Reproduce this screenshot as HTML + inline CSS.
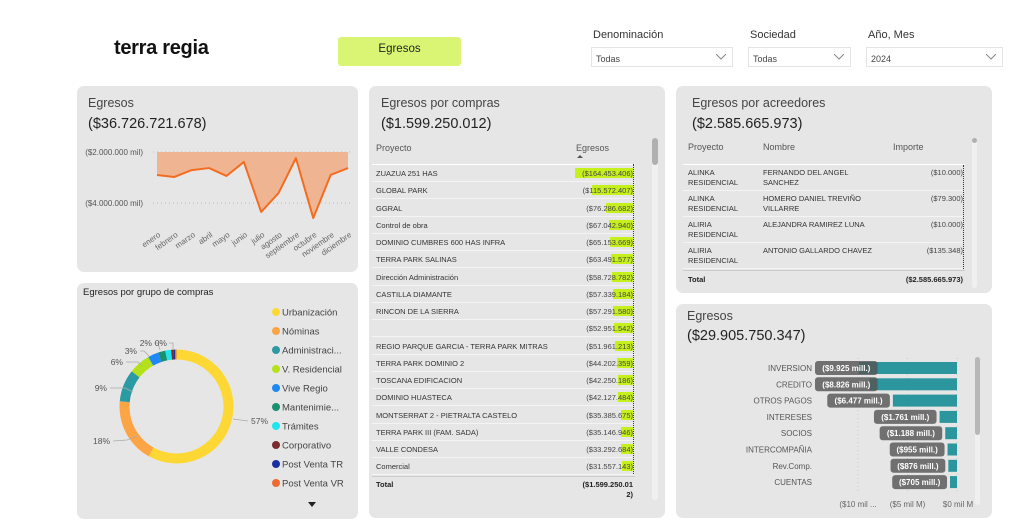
<!DOCTYPE html>
<html><head><meta charset="utf-8">
<style>
*{margin:0;padding:0;box-sizing:border-box}
body{width:1032px;height:530px;background:#fff;font-family:"Liberation Sans",sans-serif;position:relative;overflow:hidden;color:#333}
.abs{position:absolute}
.panel{position:absolute;background:#e6e6e6;border-radius:7px}
.lbl{position:absolute;font-size:11px;color:#333}
.dd{position:absolute;height:20px;border:1px solid #e4e4e4;background:#fff;font-size:9px;color:#444;padding:6px 0 0 4px}
.dd svg{position:absolute;right:6px;top:6px}
.t{position:absolute;white-space:nowrap}
</style></head><body>
<div class="t" style="left:114px;top:37px;font-size:20px;font-weight:bold;color:#111;letter-spacing:-0.3px">terra regia</div>
<div class="abs" style="left:338px;top:37px;width:123px;height:29px;background:#d9f573;border-radius:3px;font-size:11.5px;color:#222;text-align:center;padding-top:6px">Egresos</div>

<div class="lbl" style="left:593px;top:29px">Denominación</div>
<div class="dd" style="left:591px;top:47px;width:142px">Todas<svg width="10" height="6"><path d="M0 0L5 5L10 0" fill="none" stroke="#888"/></svg></div>
<div class="lbl" style="left:750px;top:29px">Sociedad</div>
<div class="dd" style="left:748px;top:47px;width:103px">Todas<svg width="10" height="6"><path d="M0 0L5 5L10 0" fill="none" stroke="#888"/></svg></div>
<div class="lbl" style="left:868px;top:29px">Año, Mes</div>
<div class="dd" style="left:866px;top:47px;width:137px">2024<svg width="10" height="6"><path d="M0 0L5 5L10 0" fill="none" stroke="#888"/></svg></div>

<!-- Panel 1 -->
<div class="panel" style="left:77px;top:86px;width:281px;height:186px"></div>
<div class="t" style="left:88px;top:96px;font-size:12.5px;color:#444">Egresos</div>
<div class="t" style="left:88px;top:116px;font-size:14.5px;color:#222">($36.726.721.678)</div>
<svg class="abs" style="left:0;top:0" width="1032" height="530" id="linesvg"></svg>

<!-- Panel 2 -->
<div class="panel" style="left:77px;top:283px;width:281px;height:236px"></div>
<div class="t" style="left:83px;top:287px;font-size:9.5px;color:#222">Egresos por grupo de compras</div>
<svg class="abs" style="left:0;top:0" width="1032" height="530" id="donutsvg"></svg>
<div class="t" style="left:308px;top:502px;width:0;height:0;border-left:4px solid transparent;border-right:4px solid transparent;border-top:5px solid #222"></div>

<!-- Panel 3 -->
<div class="panel" style="left:369px;top:86px;width:296px;height:432px"></div>
<div class="t" style="left:381px;top:96px;font-size:12.5px;color:#444">Egresos por compras</div>
<div class="t" style="left:381px;top:116px;font-size:14.5px;color:#222">($1.599.250.012)</div>
<div class="t" style="left:376px;top:143px;font-size:9px;color:#555">Proyecto</div>
<div class="t" style="left:576px;top:143px;font-size:9px;color:#555">Egresos</div>
<div class="abs" style="left:577px;top:155px;width:0;height:0;border-left:3px solid transparent;border-right:3px solid transparent;border-bottom:3px solid #555"></div>
<div class="abs" style="left:372px;top:164px;width:263px;height:1px;background:#fff"></div>
<div id="comprasRows"></div>
<div class="abs" style="left:633px;top:164px;height:310px;border-left:1px dotted #333"></div>
<div class="abs" style="left:372px;top:476px;width:263px;height:1px;background:#ccc"></div>
<div class="t" style="left:376px;top:480px;font-size:7.5px;font-weight:bold;color:#222">Total</div>
<div class="t" style="left:560px;top:480px;width:73px;text-align:right;font-size:7.5px;font-weight:bold;color:#222;line-height:10px">($1.599.250.01<br>2)</div>
<div class="abs" style="left:652px;top:138px;width:6px;height:362px;background:#f0f0f0;border-radius:3px"><div style="width:6px;height:27px;background:#b0b0b0;border-radius:3px"></div></div>

<!-- Panel 4 -->
<div class="panel" style="left:676px;top:86px;width:316px;height:207px"></div>
<div class="t" style="left:692px;top:96px;font-size:12.5px;color:#444">Egresos por acreedores</div>
<div class="t" style="left:692px;top:116px;font-size:14.5px;color:#222">($2.585.665.973)</div>
<div class="t" style="left:688px;top:142px;font-size:9px;color:#555">Proyecto</div>
<div class="t" style="left:763px;top:142px;font-size:9px;color:#555">Nombre</div>
<div class="t" style="left:893px;top:142px;font-size:9px;color:#555">Importe</div>
<div class="abs" style="left:683px;top:164px;width:282px;height:1px;background:#fff"></div>
<div id="acrRows"></div>
<div class="abs" style="left:963px;top:165px;height:104px;border-left:1px dotted #333"></div>
<div class="abs" style="left:683px;top:270px;width:282px;height:1px;background:#ccc"></div>
<div class="t" style="left:688px;top:275px;font-size:7.5px;font-weight:bold;color:#222">Total</div>
<div class="t" style="left:880px;top:275px;width:83px;text-align:right;font-size:7.5px;font-weight:bold;color:#222">($2.585.665.973)</div>
<div class="abs" style="left:972px;top:138px;width:5px;height:150px;background:#f0f0f0;border-radius:3px"><div style="width:5px;height:5px;background:#b0b0b0;border-radius:3px"></div></div>

<!-- Panel 5 -->
<div class="panel" style="left:676px;top:304px;width:316px;height:214px"></div>
<div class="t" style="left:687px;top:309px;font-size:12.5px;color:#444">Egresos</div>
<div class="t" style="left:687px;top:328px;font-size:14.5px;color:#222">($29.905.750.347)</div>
<svg class="abs" style="left:0;top:0" width="1032" height="530" id="barsvg"></svg>
<div class="abs" style="left:975px;top:357px;width:5px;height:148px;background:#f0f0f0;border-radius:3px"><div style="width:5px;height:78px;background:#b8b8b8;border-radius:3px"></div></div>

<script>
const NS="http://www.w3.org/2000/svg";
function mk(p,tag,a,txt){const e=document.createElementNS(NS,tag);for(const k in a)e.setAttribute(k,a[k]);if(txt!=null)e.textContent=txt;p.appendChild(e);return e;}

// ===== Line chart =====
const months=["enero","febrero","marzo","abril","mayo","junio","julio","agosto","septiembre","octubre","noviembre","diciembre"];
const monthValues=[2.90,2.98,2.71,2.63,2.94,2.39,4.35,3.61,2.24,4.59,2.90,2.63]; // millions of "mil" (negative)
const lineTicks=[2,4];
const lineTickLabels=["($2.000.000 mil)","($4.000.000 mil)"];
(function(){
 const s=document.getElementById('linesvg');
 const x=i=>157+i*(348-157)/(months.length-1);
 const y=v=>152+(v-2)*25.5;
 lineTicks.forEach((t,i)=>{
  const g=mk(s,'line',{x1:153,x2:352,y1:y(t),y2:y(t),stroke:'#bbb','stroke-dasharray':'1,3'});
  
  const tx=mk(s,'text',{x:143,y:y(t)+3,'text-anchor':'end','font-size':'8','fill':'#555','font-family':'Liberation Sans'},lineTickLabels[i]);
  
 });
 let pts=monthValues.map((v,i)=>x(i)+','+y(v)).join(' ');
 const area=mk(s,'polygon',{points:x(0)+','+y(2)+' '+pts+' '+x(11)+','+y(2),fill:'#efb593'});
 
 const ln=mk(s,'polyline',{points:pts,fill:'none',stroke:'#f26d21','stroke-width':'2','stroke-linejoin':'round'});
 
 months.forEach((m,i)=>{
  const t=mk(s,'text',{x:x(i)+4,y:236,'text-anchor':'end','font-size':'8','fill':'#666','font-family':'Liberation Sans',transform:`rotate(-35 ${x(i)+4} 236)`},m);
  
 });
})();

// ===== Donut =====
const groups=["Urbanización","Nóminas","Administraci...","V. Residencial","Vive Regio","Mantenimie...","Trámites","Corporativo","Post Venta TR","Post Venta VR"];
const groupShares=[57,18,9,6,3,2,1.6,0.7,0.4,0.4];
const groupColors=["#fdd835","#fda445","#2b9aa3","#b4e21a","#1e88f5","#1b8f70","#1ee6f0","#7b2a2e","#1c2fa0","#ee6a33"];
const pctLabels=["57%","18%","9%","6%","3%","2%","0%"];
(function(){
 const s=document.getElementById('donutsvg');
 const cx=176.5,cy=406.5,R=57,r=47;
 const tot=groupShares.reduce((a,b)=>a+b,0);
 let a0=0;
 const pt=(rad,a)=>[cx+rad*Math.sin(a),cy-rad*Math.cos(a)];
 groupShares.forEach((v,i)=>{
  const a1=a0+v/tot*2*Math.PI;
  const [x1,y1]=pt(R,a0),[x2,y2]=pt(R,a1),[x3,y3]=pt(r,a1),[x4,y4]=pt(r,a0);
  const lg=(a1-a0)>Math.PI?1:0;
  const p=mk(s,'path',{d:`M${x1},${y1}A${R},${R} 0 ${lg} 1 ${x2},${y2}L${x3},${y3}A${r},${r} 0 ${lg} 0 ${x4},${y4}Z`,fill:groupColors[i]});
  
  a0=a1;
  const ly=312+i*19.0;
  const c=mk(s,'circle',{cx:276,cy:ly,r:4,fill:groupColors[i]});
  
  const t=mk(s,'text',{x:282,y:ly+3.5,'font-size':'9.5','fill':'#444','font-family':'Liberation Sans'},groups[i]);
  
 });
 const lp=[[251,424,'start',[233,419,248,421]],[110,444,'end',[113,441,127,440,137,436]],[107,391,'end',[110,388,125,388,133,392]],[123,365,'end',[126,362,138,362,142,366]],[137,354,'end',[140,351,144,351,150,357]],[152,346,'end',[154,343,158,343,160,350]],[167,346,'end',[169,343,173,343,173,349]]];
 lp.forEach((l,i)=>{
  const pl=mk(s,'polyline',{points:l[3].join(','),fill:'none',stroke:'#aaa','stroke-width':'0.8'});
  
  const t=mk(s,'text',{x:l[0],y:l[1],'text-anchor':l[2],'font-size':'8.5','fill':'#555','font-family':'Liberation Sans'},pctLabels[i]);
  
 });
})();

// ===== Compras table =====
const proyectos=["ZUAZUA 251 HAS","GLOBAL PARK","GGRAL","Control de obra","DOMINIO CUMBRES 600 HAS INFRA","TERRA PARK SALINAS","Dirección Administración","CASTILLA DIAMANTE","RINCON DE LA SIERRA","","REGIO PARQUE GARCIA - TERRA PARK MITRAS","TERRA PARK DOMINIO 2","TOSCANA EDIFICACION","DOMINIO HUASTECA","MONTSERRAT 2 - PIETRALTA CASTELO","TERRA PARK III (FAM. SADA)","VALLE CONDESA","Comercial"];
const egresosVals=[164453406,115572407,76286682,67042940,65153669,63491577,58728782,57339184,57291580,52951542,51961213,44202359,42250186,42127484,35385675,35146946,33292684,31557143];
(function(){
 const box=document.getElementById('comprasRows');
 const max=Math.max(...egresosVals);
 proyectos.forEach((p,i)=>{
  const top=165+i*17.25;
  const fmt='($'+egresosVals[i].toString().replace(/\B(?=(\d{3})+(?!\d))/g,'.')+')';
  const row=document.createElement('div');
  row.className='abs';
  row.style.cssText=`left:372px;top:${top}px;width:263px;height:17px;border-bottom:1px solid #f4f4f4`;
  
  
  const w=egresosVals[i]/max*58;
  row.innerHTML=`<div class="t" style="left:4px;top:4px;font-size:7.5px;color:#333">${p}</div><div class="abs" style="left:${261-w}px;top:3px;width:${w}px;height:10px;background:#c6f01b"></div><div class="t" style="left:150px;width:111px;text-align:right;top:4px;font-size:7.5px;color:#444">${fmt}</div>`;
  box.appendChild(row);
 });
})();

// ===== Acreedores table =====
const acrProy=[["ALINKA","RESIDENCIAL"],["ALINKA","RESIDENCIAL"],["ALIRIA","RESIDENCIAL"],["ALIRIA","RESIDENCIAL"]];
const acrNombre=[["FERNANDO DEL ANGEL","SANCHEZ"],["HOMERO DANIEL TREVIÑO","VILLARRE"],["ALEJANDRA RAMIREZ LUNA",""],["ANTONIO GALLARDO CHAVEZ",""]];
const acrImporte=["($10.000)","($79.300)","($10.000)","($135.348)"];
(function(){
 const box=document.getElementById('acrRows');
 acrProy.forEach((p,i)=>{
  const top=165+i*26;
  const row=document.createElement('div');
  row.className='abs';
  row.style.cssText=`left:683px;top:${top}px;width:282px;height:26px;border-bottom:1px solid #f4f4f4`;
  
  
  row.innerHTML=`<div class="t" style="left:5px;top:3px;font-size:7.5px;color:#333;line-height:10px">${p[0]}<br>${p[1]}</div><div class="t" style="left:80px;top:3px;font-size:7.5px;color:#333;line-height:10px">${acrNombre[i][0]}<br>${acrNombre[i][1]}</div><div class="t" style="left:180px;width:100px;text-align:right;top:3px;font-size:7.5px;color:#444">${acrImporte[i]}</div>`;
  box.appendChild(row);
 });
})();

// ===== Bar chart =====
const barCats=["INVERSION","CREDITO","OTROS PAGOS","INTERESES","SOCIOS","INTERCOMPAÑIA","Rev.Comp.","CUENTAS"];
const barVals=[9925,8826,6477,1761,1188,955,876,705]; // mill.
const barLabels=["($9.925 mill.)","($8.826 mill.)","($6.477 mill.)","($1.761 mill.)","($1.188 mill.)","($955 mill.)","($876 mill.)","($705 mill.)"];
const barTicks=[10000,5000,0];
const barTickLabels=["($10 mil ...","($5 mil M)","$0 mil M"];
(function(){
 const s=document.getElementById('barsvg');
 const x=v=>957-v*0.0099;
 const y=i=>368+i*16.3;
 barTicks.forEach((t,i)=>{
  const l=mk(s,'line',{x1:x(t),x2:x(t),y1:358,y2:492,stroke:'#c8c8c8','stroke-dasharray':'1,3'});
  
  const tx=mk(s,'text',{x:x(t)+(i==2?1:0),y:507,'text-anchor':'middle','font-size':'8','fill':'#666','font-family':'Liberation Sans'},barTickLabels[i]);
  
 });
 barCats.forEach((c,i)=>{
  const yc=y(i);
  const t=mk(s,'text',{x:812,y:yc+3,'text-anchor':'end','font-size':'8','fill':'#555','font-family':'Liberation Sans'},c);
  
  const bx=x(barVals[i]);
  const b=mk(s,'rect',{x:bx,y:yc-6,width:957-bx,height:12,fill:'#2b969e'});
  
  const bw=barLabels[i].length*3.9+8;
  let right=Math.max(bx-3,815+bw);
  const r=mk(s,'rect',{x:right-bw,y:yc-7,width:bw,height:14,rx:3,fill:'#555','fill-opacity':'0.82'});
  
  const lt=mk(s,'text',{x:right-bw/2,y:yc+3,'text-anchor':'middle','font-size':'8','font-weight':'bold','fill':'#fff','font-family':'Liberation Sans'},barLabels[i]);
  
 });
})();
</script>
</body></html>
